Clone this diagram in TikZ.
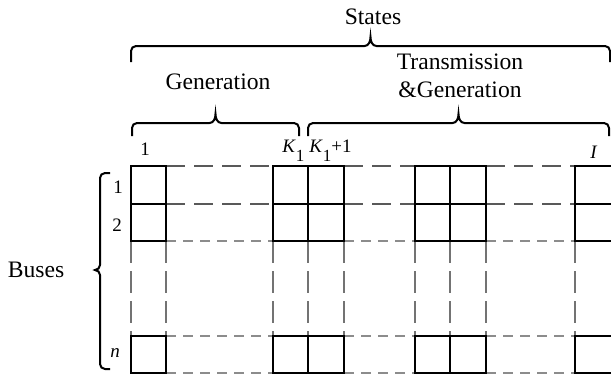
\documentclass[tikz,border=0pt]{standalone}
\usepackage{fontspec}
\setmainfont{Liberation Serif}

% square-ish curly brace: x1, x2, y of the ends, y of the bar, y of the tip
\newcommand{\hbrace}[5]{%
	\pgfmathsetmacro\brmid{(#1+#2)/2}
	\pgfmathsetmacro\brl{\brmid-6}
	\pgfmathsetmacro\brr{\brmid+6}
	\pgfmathsetmacro\bra{#1+5}
	\pgfmathsetmacro\brb{#2-5}
	\pgfmathsetmacro\brc{#4+5}
	\draw [bracepen] (#1,#3) -- (#1,\brc) to[out=90,in=180] (\bra,#4)
		-- (\brl,#4) to[out=0,in=-90] (\brmid,#5)
		to[out=-90,in=180] (\brr,#4) -- (\brb,#4)
		to[out=0,in=90] (#2,\brc) -- (#2,#3);
}
\newcommand{\sub}[1]{\raisebox{-4.5pt}{\fontsize{8.5}{10}\selectfont #1}}

\begin{document}
\begin{tikzpicture}[x=0.5pt, y=-0.5pt,
	big/.style={inner sep=0pt, font=\fontsize{11.8}{14}\selectfont},
	small/.style={inner sep=0pt, font=\fontsize{9.5}{11}\selectfont},
	bracepen/.style={line width=1pt},
	cell/.style={line width=1.2pt},
	longdash/.style={line width=0.8pt, color=black!65, dash pattern=on 9.5pt off 4.5pt},
	shortdash/.style={line width=0.8pt, color=black!45, dash pattern=on 5pt off 3.5pt},
	vdash/.style={line width=0.8pt, color=black!55, dash pattern=on 11pt off 4pt}]
	\useasboundingbox (0,0) rectangle (611,376);

	\node[big] (states) at (373,17) {States};
	\node[big] (gen) at (218,82) {Generation};
	\node[big, align=center] (trans) at (460,76) {Transmission\\\&Generation};
	\node[big] (buses) at (36,270) {Buses};

	\hbrace{131}{610}{62}{46}{37}
	\hbrace{132}{299}{136}{123}{114}
	\hbrace{308}{609}{136}{123}{114}
	\draw [bracepen] (110,173) -- (105,173) to[out=180,in=90] (100,178)
		-- (100,265) to[out=-90,in=0] (95,270) to[out=0,in=90] (100,275)
		-- (100,364) to[out=-90,in=180] (105,369) -- (110,369);

	\node[small, anchor=base] (s1) at (145,155) {1};
	\node[small, anchor=base west] (sk) at (282,152) {\textit{K}\sub{1}};
	\node[small, anchor=base west] (sk1) at (309,152) {\textit{K}\sub{1}+1};
	\node[small, anchor=base] (sI) at (594,158) {\textit{I}};
	\node[small, anchor=base] (b1) at (118,193) {1};
	\node[small, anchor=base] (b2) at (117,231) {2};
	\node[small, anchor=base] (bn) at (115,357) {\textit{n}};

	% dashed links between the blocks
	\foreach \xa/\xb in {166/273, 344/415, 486/575} {
		\draw [longdash] (\xa,166) -- (\xb,166);
		\draw [longdash] (\xa,204) -- (\xb,204);
		\foreach \y in {241,336,373}
			\draw [shortdash] (\xa,\y) -- (\xb,\y);
	}
	\foreach \x in {131,166,273,308,344,415,450,486,575}
		\draw [vdash] (\x,241) -- (\x,336);

	\foreach \xa/\xb in {131/166, 273/308, 308/344, 415/450, 450/486, 575/612}
		\foreach \ya/\yb in {166/204, 204/241, 336/373}
			\draw [cell] (\xa,\ya) rectangle (\xb,\yb);
\end{tikzpicture}
\end{document}
